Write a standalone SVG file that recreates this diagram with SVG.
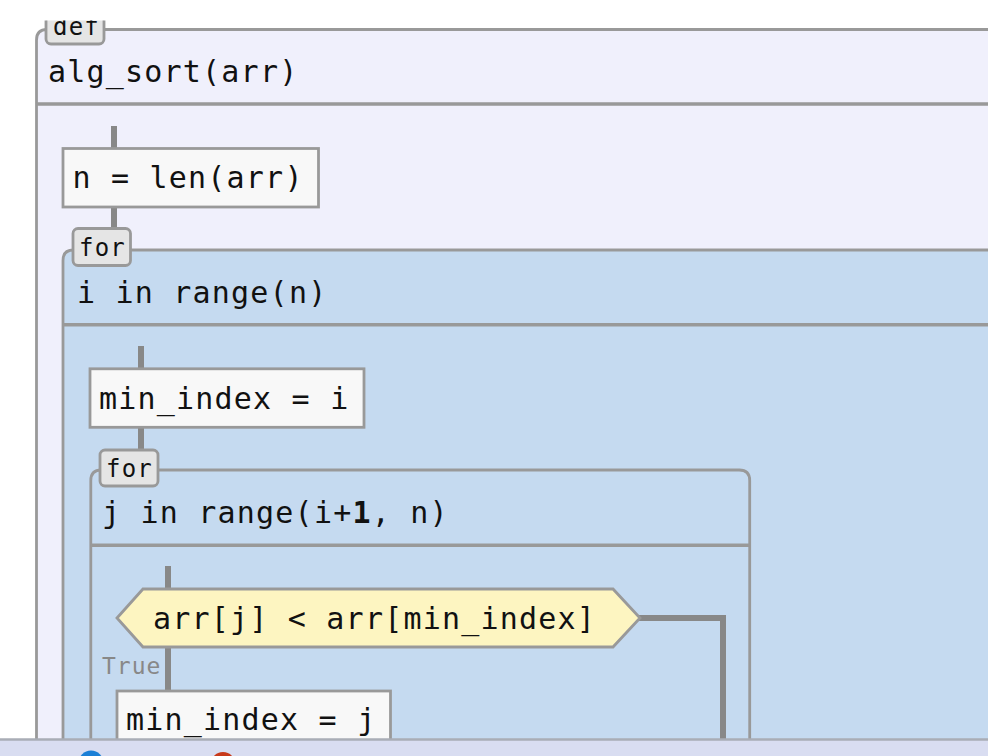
<svg xmlns="http://www.w3.org/2000/svg" width="988" height="756" viewBox="0 0 988 756">
<style>
.code{font-family:"DejaVu Sans Mono","Liberation Mono",monospace;font-size:30px;letter-spacing:1.2px;fill:#111}
.tagt{font-family:"DejaVu Sans Mono","Liberation Mono",monospace;font-size:24px;letter-spacing:1.2px;fill:#111}
.lbl{font-family:"DejaVu Sans Mono","Liberation Mono",monospace;font-size:23px;letter-spacing:1px;fill:#888}
.frame{stroke:#999;stroke-width:2.8}
.sep{stroke:#999;stroke-width:3.5}
.tag{fill:#e5e5e5;stroke:#999;stroke-width:2.8}
.box{fill:#f8f8f8;stroke:#999;stroke-width:2.8}
.conn{fill:none;stroke:#888;stroke-width:6}
</style>
<defs>
<clipPath id="view"><rect x="0" y="20.5" width="988" height="718.5"/></clipPath>
</defs>
<rect width="988" height="756" fill="#ffffff"/>
<g clip-path="url(#view)">
<g id="def-frame">
<path class="frame" fill="#f0f0fc" d="M36.5,800 V40 Q36.5,29.5 47,29.5 H1000 V800 Z"/>
<line class="sep" x1="36.5" y1="104" x2="1000" y2="104"/>
<text class="code" x="48" y="82">alg_sort(arr)</text>
<rect class="tag" x="46" y="7" width="58" height="37" rx="5"/>
<text class="tagt" x="53" y="35">def</text>
</g>
<g id="for-i">
<path class="frame" fill="#c5daf0" d="M63,800 V260.5 Q63,250 73.5,250 H1000 V800 Z"/>
<line class="sep" x1="63" y1="324.7" x2="1000" y2="324.7"/>
<text class="code" x="77" y="303">i in range(n)</text>
</g>
<g id="for-j">
<path class="frame" fill="#c5daf0" d="M90.8,800 V480.5 Q90.8,470 101.3,470 H739.2 Q749.7,470 749.7,480.5 V800 Z"/>
<line class="sep" x1="90.8" y1="545.3" x2="749.7" y2="545.3"/>
<text class="code" x="102" y="523">j in range(i+<tspan font-weight="bold">1</tspan>, n)</text>
</g>
<g id="connectors">
<line class="conn" x1="114" y1="126" x2="114" y2="149"/>
<line class="conn" x1="114" y1="206" x2="114" y2="232"/>
<line class="conn" x1="141" y1="346" x2="141" y2="369"/>
<line class="conn" x1="141" y1="426" x2="141" y2="452"/>
<line class="conn" x1="168" y1="566" x2="168" y2="590"/>
<line class="conn" x1="168" y1="646" x2="168" y2="692"/>
<path class="conn" d="M638,618 H723 V760"/>
<text class="lbl" x="102" y="674">True</text>
</g>
<g id="tag-for-i">
<rect class="tag" x="73" y="228.5" width="57.5" height="37" rx="5"/>
<text class="tagt" x="79" y="256">for</text>
</g>
<g id="tag-for-j">
<rect class="tag" x="100" y="450" width="58" height="36" rx="5"/>
<text class="tagt" x="106" y="477">for</text>
</g>
<g id="n-assign">
<rect class="box" x="63" y="148.5" width="255.5" height="58.5"/>
<text class="code" x="72.5" y="188">n = len(arr)</text>
</g>
<g id="min-index-i">
<rect class="box" x="90" y="368.8" width="274" height="58.5"/>
<text class="code" x="99" y="409">min_index = i</text>
</g>
<g id="cond">
<polygon points="117,618 143,589 613,589 640,618 613,647 143,647" fill="#fdf5c1" stroke="#999" stroke-width="2.8"/>
<text class="code" x="153" y="629">arr[j] &lt; arr[min_index]</text>
</g>
<g id="min-index-j">
<rect class="box" x="117" y="691" width="273.5" height="80"/>
<text class="code" x="126" y="730">min_index = j</text>
</g>
</g>
<g id="bottom-bar">
<rect x="0" y="739.5" width="988" height="17" fill="#d9ddf1"/>
<line x1="0" y1="739.5" x2="988" y2="739.5" stroke="#a9adb6" stroke-width="2.4"/>
<circle cx="91" cy="763" r="12.5" fill="#1a7fd6"/>
<circle cx="223" cy="764.5" r="12.5" fill="#c8391a"/>
</g>
</svg>
